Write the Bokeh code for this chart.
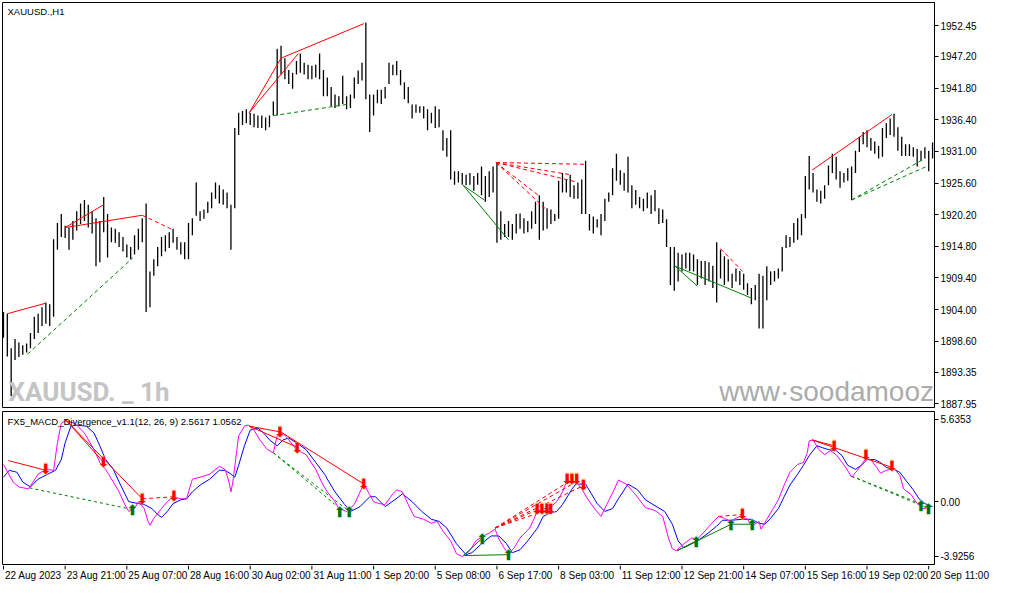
from bokeh.plotting import figure
from bokeh.models import Range1d, LinearAxis, FixedTicker, PrintfTickFormatter, Label
from bokeh.layouts import column
from bokeh.embed import file_html
from bokeh.resources import INLINE
from bokeh.core.properties import value

# ---------------- data ----------------
symbol_title = "XAUUSD.,H1"
macd_title = "FX5_MACD_Divergence_v1.1(12, 26, 9) 2.5617 1.0562"

# H1 bars sampled every 2 hours (bar index in hours)
bar_high = [1903.6,1903.3,1897.4,1899.0,1898.4,1897.9,1898.2,1900.0,1902.8,1903.3,1904.4,1905.2,1904.9,1916.0,1918.8,1920.3,1918.3,1918.0,1919.1,1920.8,
            1922.1,1922.7,1921.9,1920.8,1919.6,1919.1,1923.2,1920.3,1918.0,1917.8,1917.2,1916.4,1915.1,1914.7,1916.7,1917.8,1919.6,1922.1,1910.5,1912.6,
            1914.7,1916.4,1916.7,1917.2,1917.8,1916.4,1915.5,1915.5,1918.8,1919.6,1925.7,1920.8,1921.1,1922.4,1924.0,1925.7,1925.2,1924.5,1924.0,1921.9,
            1935.0,1937.6,1937.9,1938.2,1937.6,1937.4,1937.1,1937.1,1936.8,1937.1,1939.5,1948.5,1949.0,1946.9,1944.9,1944.4,1946.4,1947.7,1946.1,1945.8,
            1945.6,1945.8,1947.7,1944.9,1943.6,1942.0,1940.7,1940.4,1943.9,1940.4,1940.7,1943.6,1944.8,1946.1,1953.0,1940.7,1940.7,1941.5,1941.5,1942.0,
            1946.1,1945.8,1946.4,1944.9,1942.8,1942.0,1939.0,1939.0,1938.7,1938.7,1938.2,1937.6,1938.7,1938.2,1934.6,1933.3,1934.6,1927.6,1927.6,1927.3,
            1927.0,1927.3,1926.8,1927.3,1928.4,1926.8,1927.6,1928.4,1929.1,1920.8,1918.6,1919.1,1918.6,1920.3,1920.4,1919.6,1919.1,1920.8,1922.4,1923.5,
            1922.4,1921.3,1921.1,1920.3,1926.0,1927.3,1926.2,1927.0,1925.2,1925.7,1926.2,1929.4,1920.3,1919.9,1919.4,1920.3,1922.9,1924.0,1928.1,1930.6,
            1927.8,1927.3,1930.1,1925.2,1924.4,1923.2,1922.9,1924.0,1923.5,1924.4,1921.3,1921.1,1919.4,1914.7,1914.7,1913.7,1913.4,1913.7,1913.7,1913.4,
            1912.6,1912.3,1912.3,1912.1,1911.5,1915.5,1914.2,1913.1,1912.6,1910.1,1911.0,1910.6,1910.1,1908.5,1907.7,1908.2,1910.1,1909.8,1911.4,1910.5,
            1910.6,1911.0,1914.7,1916.7,1916.4,1918.8,1919.6,1920.3,1926.8,1930.2,1927.3,1924.5,1924.3,1925.2,1928.6,1930.6,1930.1,1927.6,1927.3,1928.1,
            1928.4,1931.1,1933.5,1934.3,1934.6,1933.3,1932.7,1931.9,1935.0,1935.8,1936.6,1937.4,1935.1,1933.5,1932.2,1932.2,1931.7,1931.4,1931.1,1931.7,
            1931.1,1932.5]
bar_low = [1899.2,1896.0,1889.2,1895.4,1895.9,1896.3,1896.7,1897.4,1899.0,1900.0,1901.2,1901.6,1901.2,1902.8,1914.2,1916.4,1916.2,1914.2,1915.9,1917.5,
           1918.6,1919.1,1918.0,1917.0,1911.4,1912.1,1917.2,1912.9,1915.5,1915.4,1914.7,1913.9,1912.9,1912.6,1913.4,1914.2,1915.5,1903.6,1904.4,1909.8,
           1911.4,1913.1,1913.9,1914.5,1915.4,1914.2,1913.4,1912.6,1912.6,1916.7,1920.0,1919.1,1919.5,1920.5,1921.3,1922.9,1922.1,1921.9,1921.3,1914.2,
           1921.3,1933.8,1935.5,1935.8,1935.5,1935.1,1935.0,1935.0,1934.6,1935.1,1937.1,1937.1,1944.1,1943.3,1942.5,1941.7,1944.1,1944.4,1944.1,1943.3,
           1943.3,1943.6,1943.3,1940.4,1940.4,1938.7,1938.4,1938.7,1939.1,1938.2,1938.4,1940.0,1942.5,1943.1,1939.9,1934.3,1937.1,1939.2,1939.1,1940.0,
           1942.5,1944.0,1944.0,1942.3,1939.9,1939.2,1936.6,1937.6,1937.6,1936.6,1934.6,1935.8,1935.0,1935.1,1931.1,1930.1,1926.2,1925.3,1925.7,1925.3,
           1925.2,1925.3,1924.3,1925.3,1923.5,1922.4,1923.2,1924.0,1915.4,1915.9,1916.4,1916.4,1915.9,1917.0,1917.8,1917.0,1917.2,1917.8,1918.6,1915.9,
           1917.5,1917.8,1918.6,1919.1,1919.5,1924.0,1924.0,1923.2,1922.9,1922.9,1920.3,1920.3,1917.5,1917.0,1918.0,1916.7,1919.1,1922.4,1923.5,1926.0,
           1925.3,1924.3,1924.0,1921.3,1921.9,1921.3,1920.8,1921.3,1920.3,1920.8,1918.6,1918.8,1914.7,1908.2,1907.2,1908.8,1910.5,1911.0,1910.6,1910.5,
           1908.2,1909.3,1908.2,1908.8,1907.7,1905.2,1909.3,1908.2,1908.8,1907.7,1908.8,1908.2,1907.4,1906.5,1904.9,1905.6,1900.8,1900.8,1905.6,1908.2,
           1908.8,1909.3,1910.5,1914.5,1914.7,1915.4,1915.9,1916.7,1919.6,1924.5,1924.0,1922.4,1922.1,1922.9,1925.2,1927.3,1926.2,1924.8,1925.7,1926.0,
           1922.7,1927.3,1930.9,1932.2,1931.7,1931.1,1930.6,1929.8,1930.1,1933.3,1933.8,1933.5,1931.1,1930.2,1930.2,1930.2,1930.1,1928.4,1929.4,1929.8,
           1927.6,1929.8]
bar_hour = [2 * i for i in range(len(bar_high))]

# MACD (magenta) and signal (blue) lines: (bar hour, value)
macd_hour = [0,5,8,13,18,22,26,28,30,32,37,42,47,50,53,57,60,63,65,68,70,73,75,76,78,82,85,88,92,95,98,102,107,112,115,117,118,119,
             122,125,127,130,133,137,140,142,145,148,152,157,162,165,168,172,174,178,182,185,187,190,192,195,198,202,204,207,210,213,218,
             222,225,228,232,235,238,242,245,248,252,255,257,260,262,265,268,273,277,280,283,287,290,292,297,300,303,307,310,313,317,319,
             323,328,333,338,342,345,347,349,353,357,360,363,367,371,374,377,380,382,386,388,392,393,396,399,402,405,408,412,415,417,418,
             420,423,426,429,432,437,440,443,447,450,453,455,458,462,465,467,471,474,477,481]
macd_val = [2.33,1.23,0.92,0.80,1.72,2.02,1.96,3.68,4.90,5.05,4.90,4.29,3.25,2.45,2.02,1.23,0.61,-0.18,-0.61,-0.43,0.0,-0.43,-1.23,-1.47,
            -1.04,-0.43,0.0,0.31,0.18,0.18,1.41,1.53,1.72,2.21,2.02,1.23,0.61,1.23,
            4.11,4.72,4.78,4.47,3.86,3.25,3.06,4.11,4.29,3.86,3.25,2.94,2.02,1.23,0.61,0.0,-0.43,-0.61,-0.18,0.61,1.10,0.43,0.0,-0.12,-0.18,
            0.49,0.74,0.61,-0.18,-0.92,-1.10,
            -1.35,-1.23,-1.84,-2.45,-3.25,-3.43,-3.06,-2.45,-2.21,-1.96,-1.72,-2.33,-2.94,-3.25,-2.88,-2.27,-1.65,-0.61,-0.43,-0.43,0.0,0.61,
            1.23,1.23,0.80,0.18,-0.49,-0.92,-0.18,0.80,1.35,
            1.10,0.43,-0.37,-0.55,-0.92,-2.27,-2.94,-3.06,-2.63,-2.27,-2.33,-1.96,-1.41,-0.92,-1.04,-1.23,-1.04,-0.92,-1.10,-1.53,-1.23,-1.72,
            -1.10,-0.49,0.12,1.04,1.84,2.33,2.45,3.06,3.80,
            3.86,3.25,2.94,3.19,2.94,2.14,1.53,1.96,2.63,2.63,2.14,1.78,1.96,2.08,1.65,0.80,0.43,-0.12,-0.43,-0.37]
signal_hour = [0,3,7,10,14,18,23,27,30,32,35,38,43,47,50,53,57,60,65,70,73,77,80,82,85,88,92,95,98,102,107,112,115,118,120,122,125,128,
               132,135,138,142,145,148,152,157,162,167,168,172,177,180,185,190,193,198,203,207,212,217,222,226,230,235,240,243,248,253,
               257,261,264,268,272,277,280,283,287,290,295,297,302,305,308,312,316,319,324,329,333,337,343,347,350,353,357,360,365,370,
               373,378,383,388,392,395,398,402,405,408,412,415,418,422,425,428,432,435,438,442,445,448,452,455,458,462,465,468,472,475,
               478,482]
signal_val = [1.53,1.96,1.84,1.23,0.92,1.41,1.72,1.96,2.63,3.68,4.72,4.78,4.72,4.29,3.49,2.63,2.02,1.23,0.0,-0.12,-0.18,-0.43,-0.80,-0.98,
              -0.61,-0.12,0.12,0.18,0.61,1.04,1.41,1.96,1.96,1.72,1.53,2.27,3.49,4.47,
              4.60,4.29,3.86,3.49,3.86,3.98,3.68,3.25,2.45,1.65,1.41,0.61,-0.18,-0.61,-0.31,0.31,0.31,-0.31,0.12,0.49,0.0,-0.61,-1.10,-1.23,
              -1.65,-2.63,-3.31,-3.19,-2.63,-2.14,
              -2.14,-2.63,-3.19,-3.00,-2.45,-1.65,-0.92,-0.74,-0.61,-0.18,0.80,1.10,1.10,0.49,-0.12,-0.61,-0.43,0.18,1.10,0.74,0.12,-0.18,
              -0.61,-1.41,-2.45,-2.88,-2.63,-2.45,-2.02,-1.53,
              -1.16,-1.16,-1.10,-1.10,-1.35,-1.41,-1.04,-0.43,0.31,1.04,1.72,2.27,2.88,3.49,3.37,3.25,3.19,2.88,2.27,2.02,2.27,2.63,2.63,
              2.45,2.14,2.02,1.84,1.35,0.74,0.18,
              -0.12,-0.31]

# divergence lines on price: (hour0, price0, hour1, price1)
price_red_solid = [(2,1903.3,22,1905.1),(32,1918.0,52,1921.9),(32,1918.0,72,1920.1),(127.5,1937.6,144,1946.9),
                   (127.5,1937.6,153,1947.7),(144,1946.9,187,1952.8),(419.5,1927.8,461,1937.3)]
price_red_dash = [(72,1920.1,88,1917.6),(255.5,1929.1,301.5,1928.8),(255.5,1929.1,294.5,1927.0),(255.5,1929.1,297,1925.8),
                  (255.5,1929.1,277.5,1923.5),(255.5,1929.1,282.5,1920.8),(372,1914.4,383.5,1910.5)]
price_green_solid = [(238.5,1925.2,249.5,1922.7),(238.5,1925.2,262,1915.9),(348.5,1911.4,360,1908.0),(348.5,1911.4,388.5,1905.9)]
price_green_dash = [(12.5,1896.4,67,1912.8),(140,1937.1,180,1939.1),(440,1922.7,477,1929.6),(440,1922.7,480,1928.6)]

# divergence lines on MACD
macd_red_solid = [(2.5,2.57,22,1.96),(32,5.15,52,2.45),(32.5,5.09,72,0.18),(127.5,4.72,144,4.35),(127.5,4.72,153,3.37),
                  (144,4.35,187,1.10),(419.5,3.86,461,2.14),(419.5,3.86,431,3.49)]
macd_red_dash = [(72,0.18,88.5,0.31),(255,-1.65,301.5,1.04),(255,-1.65,294.5,1.35),(255,-1.65,297,1.23),
                 (255,-1.65,277.5,-0.49),(255,-1.65,282.5,-0.49),(371,-0.92,383.5,-0.80)]
macd_green_solid = [(238.5,-3.37,248.5,-2.27),(238.5,-3.37,262,-3.31),(349.5,-3.06,359.5,-2.45),(349.5,-3.06,377.5,-1.41),
                    (377.5,-1.41,388.5,-1.41)]
macd_green_dash = [(13.5,0.86,67,-0.49),(140,3.06,174.5,-0.43),(140,3.06,179.5,-0.61),(440,1.59,477,-0.18),(440,1.59,480,-0.43)]

# signal arrows
sell_hour = [22,52,72,88.5,143.5,152.5,187,292.5,295,297.5,301,277,279.5,282,284,383.5,431,447.5,461]
sell_val = [2.02,2.45,0.18,0.37,4.35,3.37,1.10,1.41,1.41,1.41,1.04,-0.43,-0.43,-0.43,-0.43,-0.80,3.49,2.94,2.21]
buy_hour = [67,174.5,179.5,248.5,262,359.5,377.5,388.5,476,480]
buy_val = [-0.55,-0.65,-0.65,-2.33,-3.35,-2.55,-1.45,-1.45,-0.28,-0.45]

# axes
price_ticks = [1952.45,1947.20,1941.80,1936.40,1931.00,1925.60,1920.20,1914.80,1909.40,1904.00,1898.60,1893.35,1887.95]
macd_max, macd_min = 5.6353, -3.9256
date_ticks = list(range(0, 481, 32))
date_labels = ["22 Aug 2023","23 Aug 21:00","25 Aug 07:00","28 Aug 16:00","30 Aug 02:00","31 Aug 11:00","1 Sep 20:00",
               "5 Sep 08:00","6 Sep 17:00","8 Sep 03:00","11 Sep 12:00","12 Sep 21:00","14 Sep 07:00","15 Sep 16:00",
               "19 Sep 02:00","20 Sep 11:00"]

# ---------------- layout ----------------
FW = 932
RB = 52
SW = 990
H1, H2, H3 = 405, 153, 19
X0, X1 = -0.5, 483.0
P0, P1 = 1887.3, 1956.4
FONT = "Liberation Sans"

xr = Range1d(X0, X1)
ppu_price = H1 / (P1 - P0)
ppu_macd = H2 / (macd_max - macd_min)
pph = FW / (X1 - X0)

def base_fig(h, yr, top, bottom, fw=FW, right=RB, x_range=xr):
    f = figure(frame_width=fw, frame_height=h, x_range=x_range, y_range=yr, output_backend="svg",
               toolbar_location=None, x_axis_location=None, y_axis_location=None,
               min_border_left=2, min_border_right=right, min_border_top=top, min_border_bottom=bottom)
    f.xgrid.visible = False
    f.ygrid.visible = False
    f.outline_line_color = "black"
    f.outline_line_width = 1
    f.background_fill_color = "white"
    f.border_fill_color = "white"
    return f

def style_axis(ax):
    ax.major_tick_out = 4
    ax.major_tick_in = 0
    ax.minor_tick_line_color = None
    ax.axis_line_color = "black"
    ax.major_tick_line_color = "black"
    ax.major_label_text_font = FONT
    ax.major_label_text_font_size = "10px"
    ax.major_label_text_color = "black"
    ax.major_label_standoff = 2

# ---------------- price panel ----------------
p1 = base_fig(H1, Range1d(P0, P1), 2, 3)
pax = LinearAxis(ticker=FixedTicker(ticks=price_ticks), formatter=PrintfTickFormatter(format="%.2f"))
style_axis(pax)
p1.add_layout(pax, "right")

# watermarks
p1.add_layout(Label(x=X0 + 6 / pph, y=P0 + 1 / ppu_price, text="XAUUSD. _ 1h", text_font="Roboto",
                    text_font_style="bold", text_font_size="26px", text_color="#c4c4c4", text_baseline="bottom"))
p1.add_layout(Label(x=X1 - 0.5 / pph, y=P0 + 0.5 / ppu_price, text="www·soodamooz", text_font=FONT,
                    text_font_size="28px", text_color="#ababab", text_align="right", text_baseline="bottom"))

p1.segment(x0=bar_hour, y0=bar_low, x1=bar_hour, y1=bar_high, line_color="black", line_width=1.3)

def draw_lines(f, segs, color, dash):
    f.segment(x0=[s[0] for s in segs], y0=[s[1] for s in segs], x1=[s[2] for s in segs], y1=[s[3] for s in segs],
              line_color=color, line_width=1, line_dash=dash)

draw_lines(p1, price_red_solid, "#ff0000", "solid")
draw_lines(p1, price_red_dash, "#ff0000", "4 3")
draw_lines(p1, price_green_solid, "#008000", "solid")
draw_lines(p1, price_green_dash, "#008000", "4 3")

p1.add_layout(Label(x=X0 + 5 / pph, y=P1 - 3 / ppu_price, text=symbol_title, text_font=FONT,
                    text_font_size="9.5px", text_color="black", text_baseline="top"))

# ---------------- MACD panel ----------------
p2 = base_fig(H2, Range1d(macd_min, macd_max), 1, 1)
top_lab = macd_max - 7.5 / ppu_macd
bot_lab = macd_min + 8.5 / ppu_macd
max_ax = LinearAxis(ticker=FixedTicker(ticks=[top_lab, 0.0, bot_lab]),
                    major_label_overrides={top_lab: "5.6353", 0.0: "0.00", bot_lab: "-3.9256"})
style_axis(max_ax)
p2.add_layout(max_ax, "right")

draw_lines(p2, macd_green_dash, "#008000", "3 3")
draw_lines(p2, macd_red_dash, "#ff0000", "4 3")
p2.line(signal_hour, signal_val, line_color="#0000ff", line_width=1)
p2.line(macd_hour, macd_val, line_color="#ff00ff", line_width=1)
draw_lines(p2, macd_red_solid, "#ff0000", "solid")
draw_lines(p2, macd_green_solid, "#008000", "solid")

AF = value("DejaVu Sans")
p2.text(x=sell_hour, y=sell_val, text=["⬇"] * len(sell_hour), text_font=AF,
        text_font_size="17px", text_color="#ffb030", text_alpha=0.55, text_align="center", text_baseline="middle")
p2.text(x=sell_hour, y=sell_val, text=["⬇"] * len(sell_hour), text_font=AF,
        text_font_size="14px", text_color="#ff0000", text_align="center", text_baseline="middle")
p2.text(x=buy_hour, y=buy_val, text=["⬆"] * len(buy_hour), text_font=AF,
        text_font_size="17px", text_color="#70d0b0", text_alpha=0.55, text_align="center", text_baseline="middle")
p2.text(x=buy_hour, y=buy_val, text=["⬆"] * len(buy_hour), text_font=AF,
        text_font_size="14px", text_color="#007000", text_align="center", text_baseline="middle")

p2.add_layout(Label(x=X0 + 5 / pph, y=macd_max - 4 / ppu_macd, text=macd_title, text_font=FONT,
                    text_font_size="9.5px", text_color="black", text_baseline="top"))

# ---------------- time scale strip ----------------
p3 = base_fig(H3, Range1d(0, H3), 0, 0, fw=SW, right=0, x_range=Range1d(X0, X0 + SW / pph))
p3.outline_line_color = None
p3.segment(x0=date_ticks, y0=[H3] * len(date_ticks), x1=date_ticks, y1=[H3 - 4] * len(date_ticks),
           line_color="black", line_width=1)
p3.text(x=[t + 1.5 / pph for t in date_ticks], y=[H3 - 4] * len(date_ticks), text=date_labels,
        text_font=value(FONT), text_font_size="10px", text_color="black", text_align="left", text_baseline="top")

layout = column(p1, p2, p3)
open("out.html", "w").write(file_html(layout, INLINE))
